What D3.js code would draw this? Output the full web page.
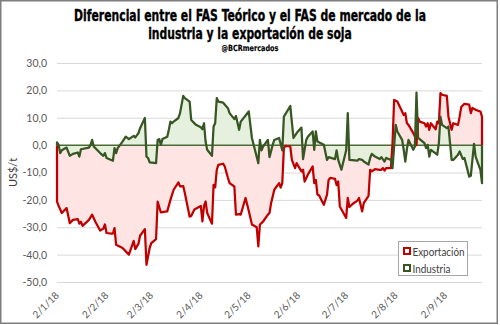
<!DOCTYPE html>
<html>
<head>
<meta charset="utf-8">
<script src="https://cdn.jsdelivr.net/npm/d3@7"></script>
<style>
  html, body { margin: 0; padding: 0; background: #fff; }
  svg { display: block; }
</style>
</head>
<body>
<svg id="chart" width="500" height="325"></svg>
<script>
// Exportación (red)
const expDates = ['2018-01-02','2018-01-03','2018-01-05','2018-01-08','2018-01-10','2018-01-12','2018-01-15','2018-01-16','2018-01-17','2018-01-18',
  '2018-01-22','2018-01-24','2018-01-26','2018-01-29','2018-01-31','2018-02-01','2018-02-02','2018-02-05','2018-02-06','2018-02-07',
  '2018-02-08','2018-02-12','2018-02-16','2018-02-19','2018-02-20','2018-02-22','2018-02-23','2018-02-26','2018-02-27','2018-03-01',
  '2018-03-02','2018-03-05','2018-03-06','2018-03-08','2018-03-12','2018-03-14','2018-03-16','2018-03-19','2018-03-20','2018-03-22',
  '2018-03-23','2018-03-26','2018-03-27','2018-03-29','2018-04-02','2018-04-03','2018-04-04','2018-04-05','2018-04-06','2018-04-09',
  '2018-04-10','2018-04-11','2018-04-12','2018-04-13','2018-04-16','2018-04-17','2018-04-19','2018-04-20','2018-04-23','2018-04-24',
  '2018-04-26','2018-04-27','2018-04-30','2018-05-02','2018-05-04','2018-05-07','2018-05-08','2018-05-09','2018-05-10','2018-05-11',
  '2018-05-14','2018-05-15','2018-05-16','2018-05-17','2018-05-18','2018-05-21','2018-05-22','2018-05-23','2018-05-24','2018-05-25',
  '2018-05-28','2018-05-29','2018-05-31','2018-06-01','2018-06-04','2018-06-05','2018-06-06','2018-06-08','2018-06-11','2018-06-12',
  '2018-06-13','2018-06-14','2018-06-15','2018-06-18','2018-06-20','2018-06-21','2018-06-22','2018-06-25','2018-06-26','2018-06-27',
  '2018-06-28','2018-07-02','2018-07-03','2018-07-04','2018-07-06','2018-07-09','2018-07-10','2018-07-12','2018-07-13','2018-07-16',
  '2018-07-17','2018-07-18','2018-07-20','2018-07-23','2018-07-24','2018-07-25','2018-07-26','2018-07-27','2018-07-30','2018-07-31',
  '2018-08-01','2018-08-03','2018-08-06','2018-08-07','2018-08-08','2018-08-09','2018-08-10','2018-08-13','2018-08-14','2018-08-15',
  '2018-08-16','2018-08-17','2018-08-20','2018-08-21','2018-08-22','2018-08-23','2018-08-24','2018-08-27','2018-08-28','2018-08-29',
  '2018-08-30','2018-08-31','2018-09-03','2018-09-04','2018-09-06','2018-09-07','2018-09-10','2018-09-11','2018-09-12','2018-09-14',
  '2018-09-17','2018-09-18','2018-09-19','2018-09-21','2018-09-24','2018-09-25'];
const expValues = [-20.6,-22.2,-24.8,-23,-28.5,-27.3,-27,-28.7,-28,-29.5,
  -27.3,-25.4,-28,-31.2,-30.5,-29,-32.1,-32.3,-32.3,-30.3,
  -36.4,-37.6,-40,-35,-38,-36,-33.1,-30.7,-43.7,-37.6,
  -35.8,-34.3,-20.6,-24.6,-24.2,-20,-16.3,-13.6,-15.1,-15,
  -17.5,-26.1,-25.9,-23.5,-22.2,-27.9,-22.3,-20.6,-24.8,-28.7,
  -14.5,-15.4,-9,-7.2,-6.8,-7.8,-12,-13.9,-15.1,-25.4,
  -25.2,-25.4,-19.3,-24,-29,-30,-37,-29,-28.5,-27.9,
  -25.4,-24.8,-21.2,-18.8,-16.3,-13.9,-15.5,-13.9,-1.1,-0.3,
  -0.5,-5.4,-8.4,-6.6,-9.6,-9,-13.3,-10.8,-7.8,-13.9,
  -12.7,-18.1,-18.3,-21.8,-18.1,-12.7,-12,-12.3,-14.6,-13.3,
  -22.4,-26.6,-19.3,-22.6,-21.5,-20.3,-19.3,-24.2,-21.2,-18.5,
  -9,-9.6,-8.8,-9,-9,-8.4,-9.3,-8.4,-8.4,0.7,
  16.5,15.9,12.3,11,11.7,8,7.4,4.4,3.1,0,
  9.9,8.6,8,6.8,8,5.6,8,5.8,8.6,8,
  19,18.4,18,10.4,5.6,8,7.4,10.4,13.9,15.1,
  14.8,11.7,13.6,12.9,12.3,10.4];

// Industria (green)
const indDates = ['2018-01-02','2018-01-03','2018-01-04','2018-01-05','2018-01-08','2018-01-10','2018-01-12','2018-01-15','2018-01-16','2018-01-17',
  '2018-01-22','2018-01-23','2018-01-24','2018-01-25','2018-01-29','2018-01-31','2018-02-01','2018-02-02','2018-02-06','2018-02-07',
  '2018-02-08','2018-02-09','2018-02-12','2018-02-14','2018-02-16','2018-02-19','2018-02-20','2018-02-22','2018-02-23','2018-02-26',
  '2018-02-27','2018-02-28','2018-03-01','2018-03-05','2018-03-06','2018-03-07','2018-03-08','2018-03-09','2018-03-12','2018-03-13',
  '2018-03-14','2018-03-15','2018-03-16','2018-03-19','2018-03-20','2018-03-22','2018-03-23','2018-03-26','2018-03-27','2018-03-30',
  '2018-04-02','2018-04-03','2018-04-04','2018-04-05','2018-04-06','2018-04-09','2018-04-10','2018-04-11','2018-04-12','2018-04-13',
  '2018-04-16','2018-04-19','2018-04-20','2018-04-23','2018-04-24','2018-04-26','2018-04-27','2018-05-02','2018-05-04','2018-05-08',
  '2018-05-09','2018-05-10','2018-05-11','2018-05-14','2018-05-15','2018-05-17','2018-05-18','2018-05-21','2018-05-23','2018-05-24',
  '2018-05-28','2018-05-30','2018-06-01','2018-06-04','2018-06-05','2018-06-07','2018-06-08','2018-06-11','2018-06-12','2018-06-13',
  '2018-06-14','2018-06-18','2018-06-20','2018-06-21','2018-06-25','2018-06-26','2018-06-27','2018-06-29','2018-07-02','2018-07-03',
  '2018-07-04','2018-07-09','2018-07-10','2018-07-12','2018-07-13','2018-07-16','2018-07-17','2018-07-18','2018-07-20','2018-07-23',
  '2018-07-24','2018-07-26','2018-07-27','2018-07-30','2018-07-31','2018-08-01','2018-08-02','2018-08-03','2018-08-06','2018-08-07',
  '2018-08-08','2018-08-09','2018-08-10','2018-08-13','2018-08-14','2018-08-15','2018-08-16','2018-08-17','2018-08-20','2018-08-21',
  '2018-08-22','2018-08-23','2018-08-24','2018-08-28','2018-08-29','2018-08-30','2018-08-31','2018-09-03','2018-09-04','2018-09-05',
  '2018-09-06','2018-09-07','2018-09-10','2018-09-11','2018-09-13','2018-09-14','2018-09-17','2018-09-18','2018-09-20','2018-09-21',
  '2018-09-24','2018-09-25'];
const indValues = [1,0.1,-2.9,-1.9,-0.9,-3.9,-3.2,-2.7,-4.2,-1.5,
  -0.9,0.1,1.9,-0.5,-2.9,-3.9,-2.9,-4.7,-5.7,-1.1,
  -2.9,-1.1,1.3,3.1,2.2,3.4,2.8,4.4,6.2,9.9,
  -4.2,-4.7,-6.3,-6.6,1.9,2.2,0.1,2.2,3.1,5.6,
  8.6,8,8.6,9.9,11.7,18,17.2,15.9,9.2,7.4,
  6.5,5.8,8,1.3,-1.7,-3.9,6.8,8,17.2,15.9,
  15.5,13.5,11.7,9.5,10.6,5.6,8.6,12.3,2.6,-6.6,
  1.9,-1.9,-0.5,1.9,-4.4,0.1,1.9,2.6,-1.9,10.4,
  14.3,2.6,4.4,6.4,-5.1,1.9,3.1,5,-1.7,5,
  1.3,0.1,-5.4,-4.4,-5.1,-1.9,-5.4,-9,-1.9,11.7,
  -5.4,-5.7,-5.1,-5.4,-6,-7.1,-4.7,-3.2,-4.2,-5.1,
  -4.4,-6,-4.7,-5.4,-8.4,-0.5,7.4,5,1.9,-1.7,
  -6,-1.5,1.9,-1.7,-0.5,19.2,2.6,2.2,0.7,-1.1,
  0.1,-4.2,-1.7,-3.5,0.7,10.4,7.4,6.2,6.8,0.7,
  -5.4,-5.4,-3.5,-2.3,-5.1,-4.7,-11.5,-11.2,0.5,-4.2,
  -9,-13.9];

const tickDates = ['2018-01-02','2018-02-02','2018-03-02','2018-04-02','2018-05-02','2018-06-02','2018-07-02','2018-08-02','2018-09-02'];
const yTicks = [-50, -40, -30, -20, -10, 0, 10, 20, 30];

const parse = d3.utcParse('%Y-%m-%d');
const exportacion = expDates.map((d, i) => ({ date: parse(d), v: expValues[i] }));
const industria = indDates.map((d, i) => ({ date: parse(d), v: indValues[i] }));

const svg = d3.select('#chart');
const plotLeft = 57, plotRight = 482, plotTop = 63, plotBottom = 282;

const x = d3.scaleUtc()
  .domain([parse('2018-01-02'), parse('2018-09-25')])
  .range([plotLeft, plotRight]);
const y = d3.scaleLinear().domain([-50, 30]).range([plotBottom, plotTop]);

svg.append('rect')
  .attr('x', 0.75).attr('y', 0.75)
  .attr('width', 496.5).attr('height', 322.5)
  .attr('fill', '#fff')
  .attr('stroke', '#7f7f7f')
  .attr('stroke-width', 1.5);

// title: condensed bold, squeezed to the reference width
const title = svg.append('g')
  .attr('font-family', '"DejaVu Sans Condensed", "Liberation Sans Narrow", sans-serif')
  .attr('font-weight', 'bold')
  .attr('fill', '#000')
  .attr('stroke', '#000')
  .attr('text-anchor', 'middle');
const titleLines = [
  { text: 'Diferencial entre el FAS Teórico y el FAS de mercado de la', y: 21, size: 16, width: 352, sw: 0.35 },
  { text: 'industria y la exportación de soja', y: 39, size: 16, width: 204, sw: 0.35 },
  { text: '@BCRmercados', y: 51, size: 8.5, width: 57, sw: 0.15 }
];
titleLines.forEach(l => {
  const t = title.append('text')
    .attr('font-size', l.size)
    .attr('stroke-width', l.sw)
    .text(l.text);
  const sx = l.width / t.node().getComputedTextLength();
  t.attr('transform', `translate(250,${l.y}) scale(${sx},1)`);
});

// y grid + labels
const yAxis = svg.append('g')
  .attr('transform', `translate(${plotLeft},0)`)
  .call(d3.axisLeft(y).tickValues(yTicks).tickSize(-(plotRight - plotLeft)).tickPadding(10)
    .tickFormat(d => d3.format('.1f')(d).replace('.', ',').replace('−', '-')));
yAxis.select('.domain').remove();
yAxis.selectAll('.tick line').attr('stroke', '#d9d9d9').attr('stroke-width', 1);
yAxis.selectAll('.tick text')
  .attr('fill', '#595959')
  .attr('font-size', 10.5)
  .attr('font-family', 'Lato, "Open Sans", sans-serif');

svg.append('text')
  .attr('transform', `translate(17,${(plotTop + plotBottom) / 2}) rotate(-90)`)
  .attr('text-anchor', 'middle')
  .attr('font-size', 11)
  .attr('font-family', 'Lato, "Open Sans", sans-serif')
  .attr('fill', '#404040')
  .text('US$/t');

// x labels
const xAxis = svg.append('g')
  .attr('transform', `translate(0,${plotBottom})`)
  .call(d3.axisBottom(x).tickValues(tickDates.map(parse)).tickSize(0)
    .tickFormat(d3.utcFormat('%-d/%-m/%y')));
xAxis.select('.domain').remove();
xAxis.selectAll('.tick text')
  .attr('fill', '#595959')
  .attr('font-size', 10)
  .attr('font-family', 'Lato, "Open Sans", sans-serif')
  .attr('text-anchor', 'end')
  .attr('dy', 0)
  .attr('transform', 'translate(0,12) rotate(-45)');

// areas
const area = d3.area()
  .x(d => x(d.date))
  .y0(y(0))
  .y1(d => y(d.v));

svg.append('path').datum(exportacion)
  .attr('fill', '#ffe4e4').attr('d', area);
svg.append('path').datum(industria)
  .attr('fill', '#e2efda').attr('fill-opacity', 0.9).attr('d', area);

// outlines closed down to zero at both ends
const outline = d3.line().x(d => x(d.date)).y(d => y(d.v));
const withEdges = s => [{ date: s[0].date, v: 0 }, ...s, { date: s[s.length - 1].date, v: 0 }];

svg.append('line')
  .attr('x1', plotLeft).attr('x2', plotRight)
  .attr('y1', y(0)).attr('y2', y(0))
  .attr('stroke', '#4a6b34').attr('stroke-width', 1.5);

svg.append('path').datum(withEdges(exportacion))
  .attr('fill', 'none').attr('stroke', '#c00000').attr('stroke-width', 2.25)
  .attr('stroke-linejoin', 'round').attr('d', outline);
svg.append('path').datum(withEdges(industria))
  .attr('fill', 'none').attr('stroke', '#375623').attr('stroke-width', 2.25)
  .attr('stroke-linejoin', 'round').attr('d', outline);

// legend
const legend = svg.append('g').attr('transform', 'translate(398.5,241.5)');
legend.append('rect')
  .attr('width', 69).attr('height', 34)
  .attr('fill', '#fff').attr('stroke', '#a6a6a6').attr('stroke-width', 1);
const items = [
  { name: 'Exportación', color: '#c00000', fill: '#fff' },
  { name: 'Industria', color: '#375623', fill: '#fff' }
];
items.forEach((it, i) => {
  const g = legend.append('g').attr('transform', `translate(0,${10 + i * 17})`);
  g.append('rect')
    .attr('x', 5.5).attr('y', -3.5).attr('width', 6).attr('height', 6)
    .attr('fill', it.fill).attr('stroke', it.color).attr('stroke-width', 2);
  g.append('text')
    .attr('x', 14).attr('y', 4)
    .attr('font-size', 10.5)
    .attr('font-family', 'Lato, "Open Sans", sans-serif')
    .attr('fill', '#404040')
    .attr('textLength', it.name === 'Exportación' ? 52 : 38)
    .attr('lengthAdjust', 'spacingAndGlyphs')
    .text(it.name);
});
</script>
</body>
</html>
